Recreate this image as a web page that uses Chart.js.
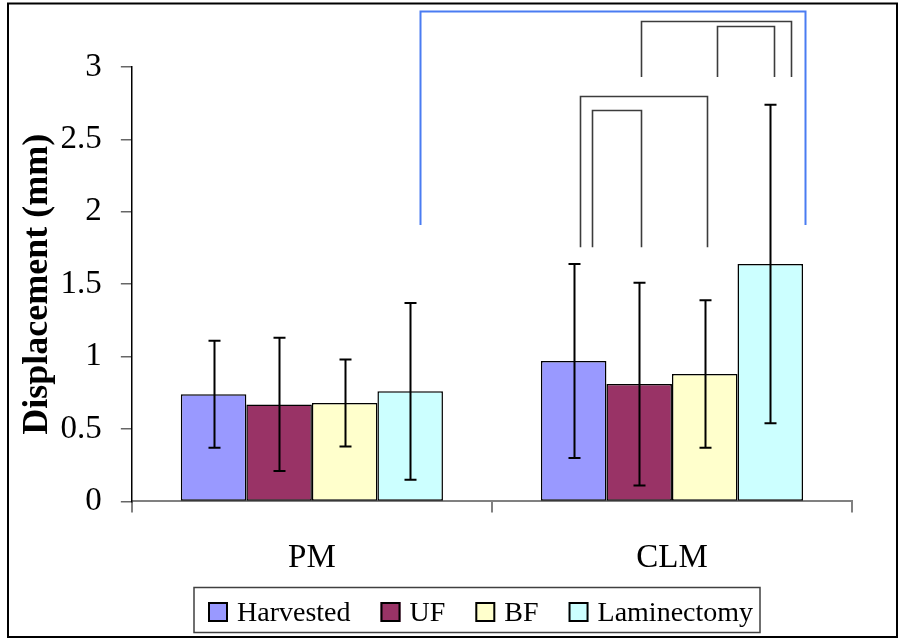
<!DOCTYPE html>
<html>
<head>
<meta charset="utf-8">
<script src="https://cdn.jsdelivr.net/npm/chart.js@4"></script>
<style>
  html, body { margin: 0; padding: 0; background: #fff; }
  #wrap { width: 904px; height: 638px; position: relative; }
</style>
</head>
<body>
<div id="wrap"><canvas id="chart" width="904" height="638"></canvas></div>
<script>
// Displacement by model and treatment (mean ± SD)
const categories = ['PM', 'CLM'];
const seriesNames = ['Harvested', 'UF', 'BF', 'Laminectomy'];

const harvested = [0.74, 0.97];
const uf = [0.67, 0.81];
const bf = [0.68, 0.88];
const laminectomy = [0.76, 1.64];

const harvestedSD = [0.37, 0.67];
const ufSD = [0.46, 0.70];
const bfSD = [0.30, 0.51];
const laminectomySD = [0.61, 1.10];

const yTicks = [0, 0.5, 1, 1.5, 2, 2.5, 3];

// Significance brackets: ends in category units (0 = PM, 1 = CLM), heights in mm
const bracketFrom = [0.299, 0.745, 0.778, 0.915, 1.125];
const bracketTo   = [1.370, 1.096, 0.914, 1.330, 1.284];
const bracketTop  = [3.385, 2.797, 2.701, 3.318, 3.283];
const bracketBase = [1.908, 1.756, 1.756, 2.931, 2.931];
const bracketColor = ['#4a7cf2', '#3c3c3c', '#3c3c3c', '#3c3c3c', '#3c3c3c'];

const fills = ['#9999ff', '#993366', '#ffffcc', '#ccffff'];
const values = [harvested, uf, bf, laminectomy];
const errors = [harvestedSD, ufSD, bfSD, laminectomySD];

const SERIF = '"Liberation Serif", "Times New Roman", serif';

const framePlugin = {
  id: 'frame',
  beforeDraw(chart) {
    const c = chart.ctx;
    c.save();
    c.fillStyle = '#fff';
    c.fillRect(0, 0, chart.width, chart.height);
    c.restore();
  },
  afterDraw(chart) {
    const c = chart.ctx;
    c.save();
    c.strokeStyle = '#000';
    c.lineWidth = 2;
    c.strokeRect(8, 3.5, chart.width - 15, chart.height - 4.5);
    c.restore();
  }
};

const errorBarPlugin = {
  id: 'errorBars',
  afterDatasetsDraw(chart) {
    const c = chart.ctx;
    const y = chart.scales.y;
    c.save();
    c.strokeStyle = '#000';
    c.lineWidth = 2;
    chart.data.datasets.forEach((ds, di) => {
      const meta = chart.getDatasetMeta(di);
      meta.data.forEach((bar, i) => {
        const v = ds.data[i], e = ds.sd[i];
        const top = y.getPixelForValue(v + e);
        const bot = y.getPixelForValue(v - e);
        const x = Math.round(bar.x) + 0.5;
        c.beginPath();
        c.moveTo(x, top); c.lineTo(x, bot);
        c.moveTo(x - 6, top); c.lineTo(x + 6, top);
        c.moveTo(x - 6, bot); c.lineTo(x + 6, bot);
        c.stroke();
      });
    });
    c.restore();
  }
};

const bracketPlugin = {
  id: 'brackets',
  afterDraw(chart) {
    const c = chart.ctx;
    const xs = chart.scales.x, ys = chart.scales.y;
    const x0 = xs.getPixelForValue(0), x1 = xs.getPixelForValue(1);
    const px = u => x0 + u * (x1 - x0);
    c.save();
    bracketFrom.forEach((f, i) => {
      const a = Math.round(px(f)) + 0.5, b = Math.round(px(bracketTo[i])) + 0.5;
      const t = Math.round(ys.getPixelForValue(bracketTop[i])) + 0.5;
      const base = ys.getPixelForValue(bracketBase[i]);
      c.strokeStyle = bracketColor[i];
      c.lineWidth = i === 0 ? 2 : 1.6;
      c.beginPath();
      c.moveTo(a, base); c.lineTo(a, t); c.lineTo(b, t); c.lineTo(b, base);
      c.stroke();
    });
    c.restore();
  }
};

const legendPlugin = {
  id: 'boxLegend',
  afterDraw(chart) {
    const c = chart.ctx;
    c.save();
    c.strokeStyle = '#404040';
    c.lineWidth = 1.5;
    c.strokeRect(194, 587.5, 566, 45);
    c.font = '28px ' + SERIF;
    c.textBaseline = 'alphabetic';
    let x = 208;
    chart.data.datasets.forEach(ds => {
      c.fillStyle = ds.backgroundColor;
      c.fillRect(x, 602, 20, 20);
      c.strokeStyle = '#000';
      c.lineWidth = 2;
      c.strokeRect(x + 1, 603, 18, 18);
      c.fillStyle = '#000';
      c.fillText(ds.label, x + 29, 621);
      x += 29 + c.measureText(ds.label).width + 30;
    });
    c.restore();
  }
};

new Chart(document.getElementById('chart'), {
  type: 'bar',
  data: {
    labels: categories,
    datasets: seriesNames.map((name, i) => ({
      label: name,
      data: values[i],
      sd: errors[i],
      backgroundColor: fills[i],
      borderColor: '#000',
      borderWidth: 1.5,
      borderSkipped: false,
      categoryPercentage: 0.728,
      barPercentage: 1.0
    }))
  },
  options: {
    responsive: false,
    animation: false,
    events: [],
    layout: { padding: { left: 34.4, right: 52, top: 67, bottom: 34 } },
    plugins: { legend: { display: false }, tooltip: { enabled: false } },
    scales: {
      x: {
        offset: true,
        grid: { display: true, offset: true, drawOnChartArea: false, drawTicks: true, tickLength: 11, color: '#808080', lineWidth: 2 },
        border: { display: true, color: '#808080', width: 2 },
        ticks: { color: '#000', padding: 26, font: { family: SERIF, size: 33 } }
      },
      y: {
        min: 0,
        max: 3,
        afterBuildTicks: s => { s.ticks = yTicks.map(v => ({ value: v })); },
        grid: { drawOnChartArea: false, drawTicks: true, tickLength: 11, color: '#666', lineWidth: 1.5 },
        border: { display: true, color: '#000', width: 1.5 },
        ticks: { color: '#000', padding: 19, font: { family: SERIF, size: 33 }, callback: v => String(v) },
        title: {
          display: true,
          text: 'Displacement (mm)',
          color: '#000',
          padding: { top: 0, bottom: 0 },
          font: { family: SERIF, size: 36, weight: 'bold', lineHeight: 0.2 }
        }
      }
    }
  },
  plugins: [framePlugin, errorBarPlugin, bracketPlugin, legendPlugin]
});
</script>
</body>
</html>
